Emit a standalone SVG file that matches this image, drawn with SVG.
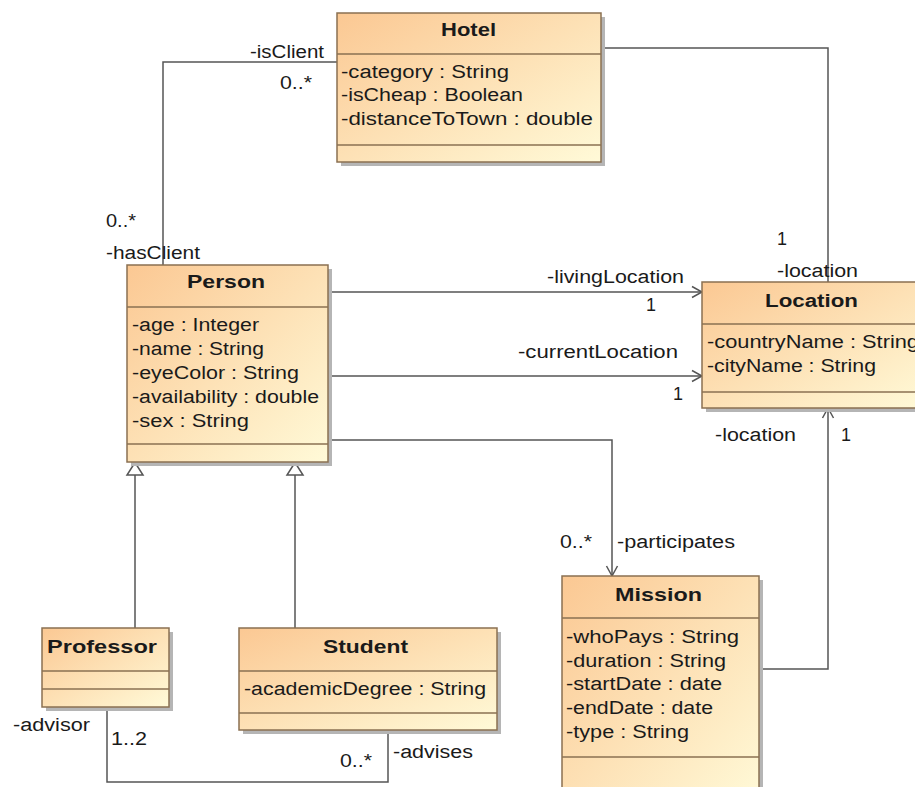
<svg xmlns="http://www.w3.org/2000/svg" width="915" height="787" viewBox="0 0 915 787">
  <style>
    .shadow { fill: #b5b5b5; }
    .box { fill: url(#classFill); stroke: #8a7052; stroke-width: 1.5; }
    .div { stroke: #8a7052; stroke-width: 1.5; }
    text { font-family: "Liberation Sans", Arial, sans-serif; font-size: 18px; fill: #1a1a1a; }
    .name { font-weight: bold; }
    .wire { fill: none; stroke: #555; stroke-width: 1.5; }
    .nav { marker-end: url(#openArrow); }
    .tri { fill: #fff; stroke: #555; stroke-width: 1.5; stroke-linejoin: miter; }
  </style>
  <defs>
    <linearGradient id="classFill" x1="0" y1="0" x2="1" y2="1">
      <stop offset="0" stop-color="#fbc893"/>
      <stop offset="1" stop-color="#fffad8"/>
    </linearGradient>
    <marker id="openArrow" markerUnits="userSpaceOnUse" markerWidth="14" markerHeight="14" refX="12" refY="7" orient="auto">
      <path d="M2,1.5 L12,7 L2,12.5" fill="none" stroke="#555" stroke-width="1.5"/>
    </marker>
  </defs>

  <rect width="915" height="787" fill="#fff"/>

  <!-- associations and generalizations -->
  <g id="connectors">
    <path class="wire" d="M337,62 H163 V265"/>
    <path class="wire" d="M601,48 H828 V282"/>
    <path class="wire nav" d="M328,292 H702"/>
    <path class="wire nav" d="M328,376 H702"/>
    <path class="wire nav" d="M328,440 H612 V576"/>
    <path class="wire nav" d="M759,669 H828 V408"/>
    <path class="wire" d="M135,628 V475"/>
    <polygon class="tri" points="135,462.5 143,475 127,475"/>
    <path class="wire" d="M295,628 V475"/>
    <polygon class="tri" points="295,462.5 303,475 287,475"/>
    <path class="wire" d="M107,707 V782 H388 V730"/>

    <!-- role names and multiplicities -->
    <text x="250" y="58" textLength="74" lengthAdjust="spacingAndGlyphs">-isClient</text>
    <text x="280" y="89" textLength="32" lengthAdjust="spacingAndGlyphs">0..*</text>
    <text x="106" y="227" textLength="30" lengthAdjust="spacingAndGlyphs">0..*</text>
    <text x="106" y="259" textLength="94" lengthAdjust="spacingAndGlyphs">-hasClient</text>
    <text x="777" y="245">1</text>
    <text x="777" y="277" textLength="81" lengthAdjust="spacingAndGlyphs">-location</text>
    <text x="547" y="283" textLength="137" lengthAdjust="spacingAndGlyphs">-livingLocation</text>
    <text x="646" y="311">1</text>
    <text x="518" y="358" textLength="160" lengthAdjust="spacingAndGlyphs">-currentLocation</text>
    <text x="673" y="400">1</text>
    <text x="715" y="441" textLength="81" lengthAdjust="spacingAndGlyphs">-location</text>
    <text x="841" y="441">1</text>
    <text x="560" y="548" textLength="32" lengthAdjust="spacingAndGlyphs">0..*</text>
    <text x="617" y="548" textLength="118" lengthAdjust="spacingAndGlyphs">-participates</text>
    <text x="13" y="731" textLength="77" lengthAdjust="spacingAndGlyphs">-advisor</text>
    <text x="111" y="745" textLength="36" lengthAdjust="spacingAndGlyphs">1..2</text>
    <text x="340" y="767" textLength="32" lengthAdjust="spacingAndGlyphs">0..*</text>
    <text x="393" y="758" textLength="80" lengthAdjust="spacingAndGlyphs">-advises</text>
  </g>

  <g id="hotel">
    <rect class="shadow" x="341" y="17" width="264" height="149"/>
    <rect class="box" x="337" y="13" width="264" height="149"/>
    <line class="div" x1="337" y1="54" x2="601" y2="54"/>
    <line class="div" x1="337" y1="145" x2="601" y2="145"/>
    <text class="name" x="441" y="36" textLength="55" lengthAdjust="spacingAndGlyphs">Hotel</text>
    <text x="341" y="78" textLength="168" lengthAdjust="spacingAndGlyphs">-category : String</text>
    <text x="341" y="101" textLength="182" lengthAdjust="spacingAndGlyphs">-isCheap : Boolean</text>
    <text x="341" y="125" textLength="252" lengthAdjust="spacingAndGlyphs">-distanceToTown : double</text>
  </g>

  <g id="person">
    <rect class="shadow" x="131" y="269" width="201" height="197"/>
    <rect class="box" x="127" y="265" width="201" height="197"/>
    <line class="div" x1="127" y1="307" x2="328" y2="307"/>
    <line class="div" x1="127" y1="444" x2="328" y2="444"/>
    <text class="name" x="187" y="288" textLength="78" lengthAdjust="spacingAndGlyphs">Person</text>
    <text x="132" y="331" textLength="127" lengthAdjust="spacingAndGlyphs">-age : Integer</text>
    <text x="132" y="355" textLength="132" lengthAdjust="spacingAndGlyphs">-name : String</text>
    <text x="132" y="379" textLength="167" lengthAdjust="spacingAndGlyphs">-eyeColor : String</text>
    <text x="132" y="403" textLength="187" lengthAdjust="spacingAndGlyphs">-availability : double</text>
    <text x="132" y="427" textLength="117" lengthAdjust="spacingAndGlyphs">-sex : String</text>
  </g>

  <g id="location">
    <rect class="shadow" x="706" y="286" width="225" height="126"/>
    <rect class="box" x="702" y="282" width="225" height="126"/>
    <line class="div" x1="702" y1="324" x2="927" y2="324"/>
    <line class="div" x1="702" y1="392" x2="927" y2="392"/>
    <text class="name" x="765" y="307" textLength="93" lengthAdjust="spacingAndGlyphs">Location</text>
    <text x="707" y="348" textLength="212" lengthAdjust="spacingAndGlyphs">-countryName : String</text>
    <text x="707" y="372" textLength="169" lengthAdjust="spacingAndGlyphs">-cityName : String</text>
  </g>

  <g id="mission">
    <rect class="shadow" x="566" y="580" width="197" height="230"/>
    <rect class="box" x="562" y="576" width="197" height="230"/>
    <line class="div" x1="562" y1="618" x2="759" y2="618"/>
    <line class="div" x1="562" y1="757" x2="759" y2="757"/>
    <text class="name" x="615" y="601" textLength="87" lengthAdjust="spacingAndGlyphs">Mission</text>
    <text x="566" y="643" textLength="173" lengthAdjust="spacingAndGlyphs">-whoPays : String</text>
    <text x="566" y="667" textLength="160" lengthAdjust="spacingAndGlyphs">-duration : String</text>
    <text x="566" y="690" textLength="156" lengthAdjust="spacingAndGlyphs">-startDate : date</text>
    <text x="566" y="714" textLength="147" lengthAdjust="spacingAndGlyphs">-endDate : date</text>
    <text x="566" y="738" textLength="123" lengthAdjust="spacingAndGlyphs">-type : String</text>
  </g>

  <g id="professor">
    <rect class="shadow" x="46" y="632" width="127" height="79"/>
    <rect class="box" x="42" y="628" width="127" height="79"/>
    <line class="div" x1="42" y1="671" x2="169" y2="671"/>
    <line class="div" x1="42" y1="689" x2="169" y2="689"/>
    <text class="name" x="47" y="653" textLength="110" lengthAdjust="spacingAndGlyphs">Professor</text>
  </g>

  <g id="student">
    <rect class="shadow" x="243" y="632" width="258" height="102"/>
    <rect class="box" x="239" y="628" width="258" height="102"/>
    <line class="div" x1="239" y1="671" x2="497" y2="671"/>
    <line class="div" x1="239" y1="713" x2="497" y2="713"/>
    <text class="name" x="323" y="653" textLength="85" lengthAdjust="spacingAndGlyphs">Student</text>
    <text x="244" y="695" textLength="242" lengthAdjust="spacingAndGlyphs">-academicDegree : String</text>
  </g>
</svg>
